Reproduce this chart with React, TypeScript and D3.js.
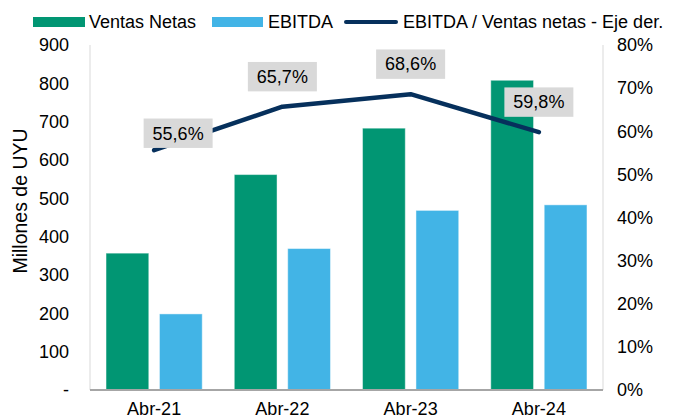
import * as d3 from 'd3';

const categories = ['Abr-21', 'Abr-22', 'Abr-23', 'Abr-24'];
const ventasNetas = [357, 562, 683, 808];
const ebitda = [198.5, 369, 468.5, 483];
const margenEbitda = [55.6, 65.7, 68.6, 59.8];
const leftTicks = [0, 100, 200, 300, 400, 500, 600, 700, 800, 900];
const rightTicks = [0, 10, 20, 30, 40, 50, 60, 70, 80];

const W = 677;
const H = 418;
const FONT = '"Liberation Sans", Arial, sans-serif';
const GREEN = '#019673';
const BLUE = '#42b4e6';
const NAVY = '#06305c';

const plot = { left: 90, right: 603, top: 45, bottom: 390 };

export default function App() {
  const x0 = d3.scaleBand().domain(categories).range([plot.left, plot.right]);
  const x1 = d3
    .scaleBand()
    .domain(['ventas', 'ebitda'])
    .range([0, x0.bandwidth()])
    .paddingInner(0.2)
    .paddingOuter(0.3);
  const yL = d3.scaleLinear().domain([0, 900]).range([plot.bottom, plot.top]);
  const yR = d3.scaleLinear().domain([0, 80]).range([plot.bottom, plot.top]);

  const cx = (c: string) => (x0(c) ?? 0) + x0.bandwidth() / 2;
  const line = d3
    .line<number>()
    .x((_, i) => cx(categories[i]))
    .y((d) => yR(d));

  const pct = (v: number) => d3.format('.1f')(v).replace('.', ',') + '%';

  // Excel label placed above point; first one was nudged by hand in the original
  const nudge = (i: number) => (i === 0 ? { dx: 24, dy: 13 } : { dx: 0, dy: 0 });

  return (
    <div style={{ position: 'fixed', left: 0, top: 0 }}>
      <svg width={W} height={H} style={{ display: 'block', background: '#fff' }} fontFamily={FONT}>
        {/* legend */}
        <g fontSize={18} fill="#000">
          <rect x={33} y={17} width={52} height={10} fill={GREEN} />
          <text x={89} y={22} dy="0.35em">Ventas Netas</text>
          <rect x={212} y={17} width={51} height={10} fill={BLUE} />
          <text x={268} y={22} dy="0.35em">EBITDA</text>
          <line x1={346} x2={396} y1={22} y2={22} stroke={NAVY} strokeWidth={4} strokeLinecap="round" />
          <text x={403} y={22} dy="0.35em">EBITDA / Ventas netas - Eje der.</text>
        </g>

        {/* side axis lines */}
        <line x1={plot.left} x2={plot.left} y1={plot.top} y2={plot.bottom} stroke="#d9d9d9" />
        <line x1={plot.right} x2={plot.right} y1={plot.top} y2={plot.bottom} stroke="#d9d9d9" />

        {/* bars */}
        {categories.map((c, i) => (
          <g key={c}>
            <rect
              x={(x0(c) ?? 0) + (x1('ventas') ?? 0)}
              y={yL(ventasNetas[i])}
              width={x1.bandwidth()}
              height={yL(0) - yL(ventasNetas[i])}
              fill={GREEN}
              stroke="rgba(255,255,255,0.45)"
              strokeWidth={1}
            />
            <rect
              x={(x0(c) ?? 0) + (x1('ebitda') ?? 0)}
              y={yL(ebitda[i])}
              width={x1.bandwidth()}
              height={yL(0) - yL(ebitda[i])}
              fill={BLUE}
              stroke="rgba(255,255,255,0.45)"
              strokeWidth={1}
            />
          </g>
        ))}

        {/* baseline */}
        <line x1={plot.left} x2={plot.right} y1={plot.bottom} y2={plot.bottom} stroke="#a6a6a6" strokeWidth={2} />

        {/* ratio line */}
        <path
          d={line(margenEbitda) ?? ''}
          fill="none"
          stroke={NAVY}
          strokeWidth={4.5}
          strokeLinecap="round"
          strokeLinejoin="round"
        />

        {/* data labels */}
        {margenEbitda.map((v, i) => {
          const n = nudge(i);
          const bx = cx(categories[i]) + n.dx;
          const by = yR(v) - 30 + n.dy;
          return (
            <g key={i}>
              <rect x={bx - 34.5} y={by - 14.7} width={69} height={29.4} fill="#d9d9d9" />
              <text x={bx} y={by} dy="0.35em" textAnchor="middle" fontSize={18} fill="#000">
                {pct(v)}
              </text>
            </g>
          );
        })}

        {/* left axis ticks */}
        <g fontSize={18} fill="#000">
          {leftTicks.map((t) => (
            <text key={t} x={69} y={yL(t)} dy="0.35em" textAnchor="end">
              {t === 0 ? '-' : d3.format('d')(t)}
            </text>
          ))}
        </g>

        {/* right axis ticks */}
        <g fontSize={18} fill="#000">
          {rightTicks.map((t) => (
            <text key={t} x={617} y={yR(t)} dy="0.35em" textAnchor="start">
              {t + '%'}
            </text>
          ))}
        </g>

        {/* x axis labels */}
        <g fontSize={18} fill="#000">
          {categories.map((c) => (
            <text key={c} x={cx(c)} y={409} dy="0.35em" textAnchor="middle">
              {c}
            </text>
          ))}
        </g>

        {/* y title */}
        <text
          transform="translate(20,201) rotate(-90)"
          textAnchor="middle"
          dy="0.35em"
          fontSize={19.5}
          fill="#000"
        >
          Millones de UYU
        </text>
      </svg>
    </div>
  );
}
